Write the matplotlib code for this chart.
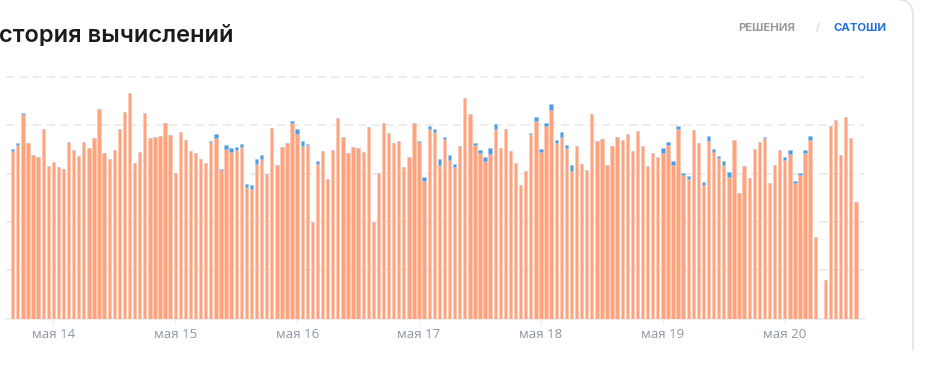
import matplotlib
matplotlib.use("Agg")
import matplotlib.pyplot as plt
from matplotlib.lines import Line2D
import numpy as np

# hourly values (arbitrary units, gridline step = 20)
solutions = [
    69.1, 71.6, 84.6, 72.5, 67.5, 66.9, 78.4, 63.2, 64.7, 62.5, 61.7, 73.0, 69.7, 67.2, 73.0, 70.4,
    74.7, 86.5, 68.5, 66.1, 69.7, 78.4, 85.5, 93.4, 64.5, 68.7, 85.1, 74.7, 75.1, 75.6, 81.0, 75.9,
    60.1, 77.1, 73.8, 69.3, 68.5, 66.1, 64.5, 73.0, 74.5, 61.4, 70.1, 68.7, 69.6, 70.9, 54.4, 53.6,
    63.9, 65.8, 59.8, 78.8, 63.5, 70.8, 72.6, 80.7, 76.4, 71.4, 71.6, 39.9, 63.9, 69.3, 57.7, 69.7,
    83.1, 74.9, 68.6, 71.1, 70.5, 69.0, 79.3, 39.9, 60.1, 81.0, 76.7, 72.6, 73.4, 62.7, 66.8, 80.7,
    73.0, 56.9, 78.5, 77.0, 63.5, 74.2, 65.6, 62.8, 71.5, 91.3, 84.7, 71.8, 68.3, 65.3, 68.2, 78.4,
    70.4, 78.4, 69.1, 64.3, 55.1, 61.0, 76.2, 81.8, 68.7, 79.6, 86.2, 72.6, 75.1, 70.7, 61.2, 71.4,
    63.8, 61.6, 84.4, 73.4, 74.2, 63.5, 71.2, 75.1, 73.8, 76.3, 69.3, 77.5, 71.2, 62.9, 68.5, 66.7,
    68.3, 71.8, 63.5, 78.2, 59.2, 57.7, 77.8, 72.6, 55.2, 73.3, 69.0, 66.5, 63.5, 58.5, 73.8, 51.8,
    63.2, 58.3, 70.1, 73.1, 74.5, 56.1, 63.6, 69.7, 65.7, 68.2, 55.9, 59.5, 68.5, 74.0, 33.7, 0.0,
    16.0, 79.6, 82.1, 67.6, 83.2, 74.8, 48.1,
]
satoshi = [
    1.0, 1.0, 0.4, 0, 0, 0, 0, 0, 0, 0, 0, 0, 0, 0, 0, 0,
    0, 0, 0, 0, 0, 0, 0, 0, 0, 0, 0, 0, 0, 0, 0, 0,
    0, 0, 0, 0, 0, 0, 0, 0.6, 1.7, 0.6, 1.7, 2.0, 1.5, 1.2, 1.2, 1.6,
    2.1, 1.7, 0, 0, 0, 0, 0, 0.8, 2.1, 1.9, 0.6, 0, 1.1, 0, 0, 0,
    0, 0, 0, 0, 0, 0, 0, 0, 0, 0, 0, 0, 0, 0, 0, 0,
    0.6, 1.6, 1.3, 1.4, 2.3, 1.0, 1.9, 1.1, 0, 0, 0, 0.7, 1.4, 1.4, 2.2, 2.0,
    0, 0, 0, 0, 0, 0, 0.7, 1.5, 1.3, 1.4, 2.5, 1.2, 1.9, 1.2, 2.3, 0,
    0, 0, 0, 0, 0, 0, 0, 0, 0, 0, 0, 0, 0, 0, 0, 0,
    2.1, 1.3, 1.7, 1.4, 1.0, 1.3, 0, 0, 1.3, 2.2, 1.0, 0.7, 1.5, 2.0, 0, 0,
    0, 0, 0, 0, 0.6, 0, 0, 0, 1.0, 1.5, 1.0, 0.8, 1.2, 1.3, 0, 0,
    0, 0, 0, 0, 0, 0, 0,
]
tick_labels = ["мая 14", "мая 15", "мая 16", "мая 17", "мая 18", "мая 19", "мая 20"]
first_tick_index = 8   # first bar is 16:00 the day before
hours_per_day = 24

W, H = 926, 367
fig = plt.figure(figsize=(W / 100, H / 100), dpi=100)
fig.patch.set_facecolor("white")

ax_left, ax_right = 6 / W, 864 / W
ax_bottom = (H - 318.7) / H
ax_top = (H - 76.7) / H
ax = fig.add_axes([ax_left, ax_bottom, ax_right - ax_left, ax_top - ax_bottom])

n = len(solutions)
x = np.arange(n)
orange = "#FFA37F"
blue = "#4B9CE2"
ax.bar(x, solutions, width=0.66, color=orange, edgecolor="#FFC9B3", linewidth=0.4, zorder=3)
ax.bar(x, satoshi, bottom=solutions, width=0.66, color=blue, edgecolor="#9CC8F0",
       linewidth=0.4, zorder=3)

ax.set_xlim(-1.32, 167.6)
ax.set_ylim(0, 100)

for yv in [20, 40, 60, 80, 100]:
    ax.axhline(yv, color="#EDEDED", linewidth=1.5, dashes=(4, 2.5), zorder=1, clip_on=False)
ax.axhline(0, color="#EDEDED", linewidth=1.5, zorder=1, clip_on=False)

for s in ax.spines.values():
    s.set_visible(False)
ax.set_yticks([])
ticks = [first_tick_index + hours_per_day * k for k in range(len(tick_labels))]
ax.set_xticks(ticks)
ax.set_xticklabels(tick_labels, fontsize=9.5, color="#8C96A3", family="Open Sans")
ax.tick_params(axis="x", length=4, color="#EDEDED", pad=3)

# title and toggle
fig.text(-1 / W, 1 - 36 / H, "стория вычислений", fontsize=17, fontweight="semibold",
         family="Inter", color="#1B1B1F", va="center", ha="left")
fig.text(738 / W, 1 - 28 / H, "РЕШЕНИЯ", fontsize=8.2, fontweight="bold",
         family="Inter", color="#9A9A9A", va="center", ha="left")
fig.text(818 / W, 1 - 28 / H, "/", fontsize=8, family="Inter", color="#C8C8C8",
         va="center", ha="center")
fig.text(834 / W, 1 - 28 / H, "САТОШИ", fontsize=8.2, fontweight="bold",
         family="Inter", color="#2170D8", va="center", ha="left")

# card border on the right
fig.add_artist(Line2D([912.5 / W, 912.5 / W], [1 - 12 / H, 1 - 350 / H],
                      color="#E3E1F0", linewidth=1.2, transform=fig.transFigure))
t = np.linspace(0, np.pi / 2, 20)
r = 12
cx, cy = 900.5, 12
fig.add_artist(Line2D((cx + r * np.sin(t)) / W, 1 - (cy - r * np.cos(t)) / H,
                      color="#E3E1F0", linewidth=1.2, transform=fig.transFigure))

fig.savefig("out.png", dpi=100, facecolor="white")
